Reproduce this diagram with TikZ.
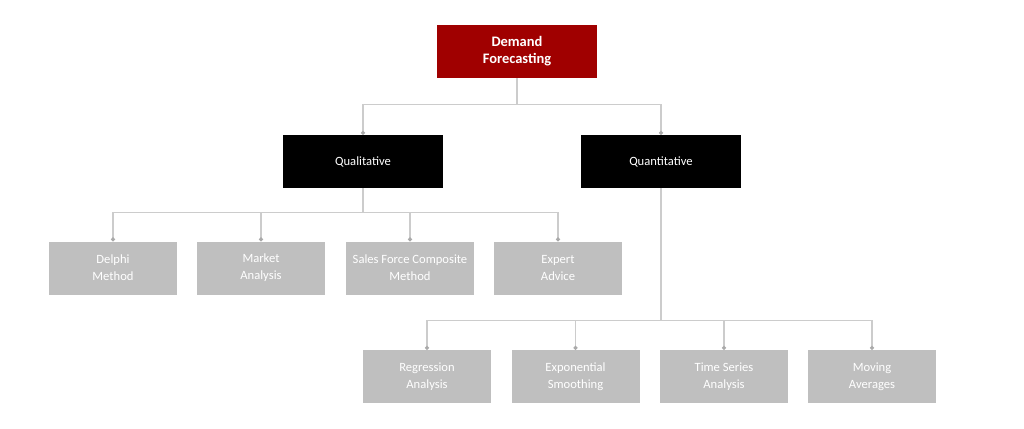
\documentclass[tikz,border=0pt]{standalone}
\usepackage{fontspec}
\setmainfont{Carlito}
\usetikzlibrary{arrows.meta}
\definecolor{topred}{HTML}{A00000}
\definecolor{boxgrey}{HTML}{BFBFBF}
\definecolor{linegrey}{HTML}{CCCCCC}
\definecolor{dotgrey}{HTML}{AAAAAA}
\tikzset{
  base/.style={inner sep=0pt, align=center, text=white, font=\fontsize{12.6}{17}\selectfont},
  topbox/.style={base, fill=topred, minimum width=160pt, minimum height=53pt, font=\fontsize{14.5}{17}\selectfont\bfseries},
  midbox/.style={base, fill=black, minimum width=160pt, minimum height=53pt},
  leafbox/.style={base, fill=boxgrey, minimum width=128pt, minimum height=53pt},
  conn/.style={draw=linegrey, line width=1.2pt, -{Circle[length=4pt, fill=dotgrey, color=dotgrey]}},
}
\begin{document}
\begin{tikzpicture}[x=1pt, y=-1pt]
\useasboundingbox (0,0) rectangle (1024,428);
\node[topbox] (top) at (517,51.5) {Demand\\Forecasting};
\node[midbox] (qual) at (363,161.5) {Qualitative};
\node[midbox] (quant) at (661,161.5) {Quantitative};
\node[leafbox] (delphi) at (113,268) {Delphi\\Method};
\node[leafbox] (market) at (261,268) {Market\\Analysis};
\node[leafbox] (sales) at (410,268) {Sales Force Composite\\Method};
\node[leafbox] (expert) at (558,268) {Expert\\Advice};
\node[leafbox] (regr) at (427,376.5) {Regression\\Analysis};
\node[leafbox] (expo) at (575.5,376.5) {Exponential\\Smoothing};
\node[leafbox] (tser) at (724,376.5) {Time Series\\Analysis};
\node[leafbox] (mavg) at (872,376.5) {Moving\\Averages};
\foreach \c in {qual,quant}
  \draw[conn] (top.south) -- ++(0,26.5) -| (\c.north);
\foreach \c in {delphi,market,sales,expert}
  \draw[conn] (qual.south) -- ++(0,24.5) -| (\c.north);
\foreach \c in {regr,expo,tser,mavg}
  \draw[conn] (quant.south) -- ++(0,132.5) -| (\c.north);
\end{tikzpicture}
\end{document}
